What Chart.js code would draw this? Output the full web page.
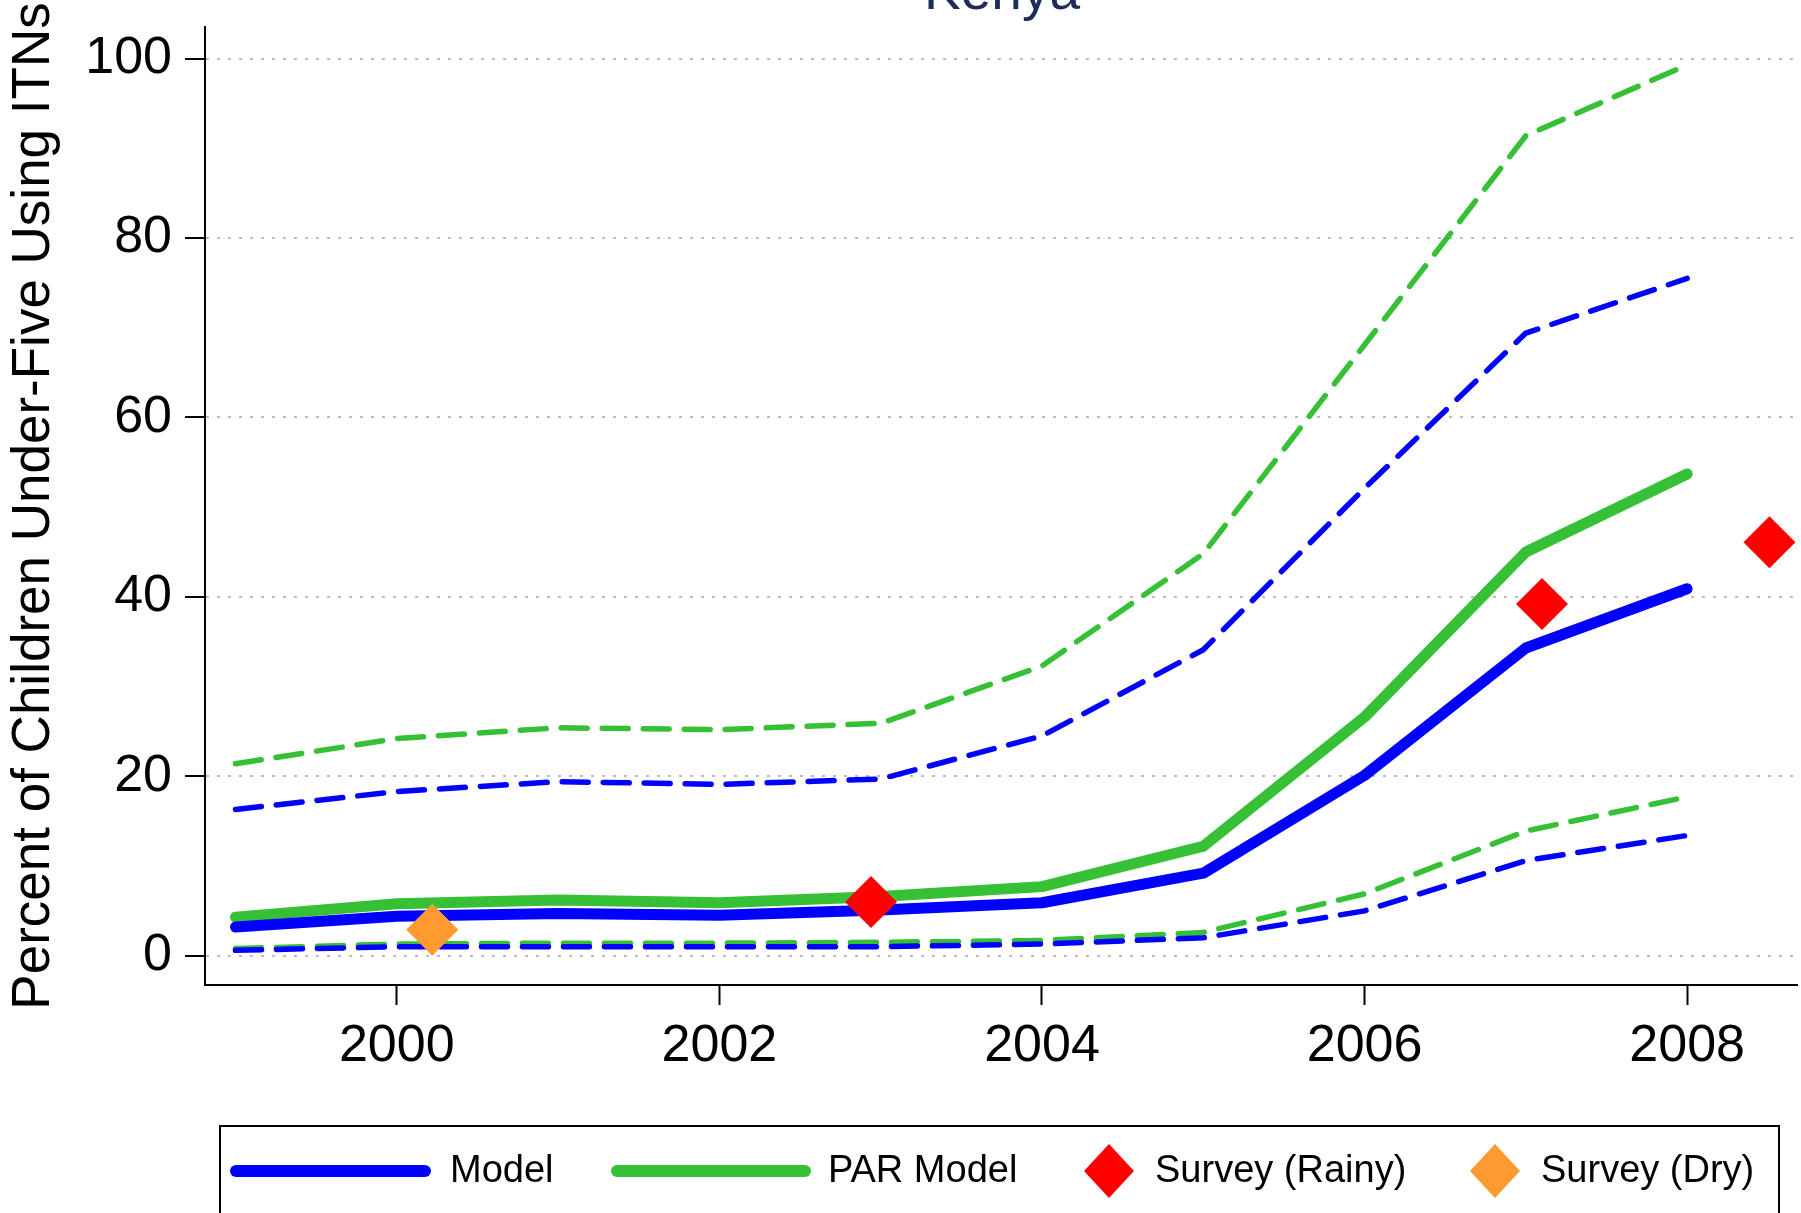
<!DOCTYPE html>
<html>
<head>
<meta charset="utf-8">
<title>Kenya ITN use</title>
<script src="https://cdn.jsdelivr.net/npm/chart.js@4.4.0/dist/chart.umd.min.js"></script>
<style>
  html, body { margin: 0; padding: 0; background: #fff; }
  #wrap { width: 1801px; height: 1213px; overflow: hidden; }
</style>
</head>
<body>
<div id="wrap"><canvas id="chart" width="1801" height="1213"></canvas></div>
<script>
// annees du modele
const years = [1999, 2000, 2001, 2002, 2003, 2004, 2005, 2006, 2007, 2008];

// Model (bleu) + bornes
const modelValues = [3.2, 4.4, 4.7, 4.5, 5.1, 5.9, 9.2, 20.1, 34.3, 40.9];
const modelLower  = [0.6, 1.0, 1.0, 1.0, 1.0, 1.3, 2.0, 5.0, 10.6, 13.4];
const modelUpper  = [16.3, 18.3, 19.4, 19.1, 19.7, 24.5, 34.1, 52.1, 69.4, 75.5];

// PAR Model (vert) + bornes
const parValues = [4.3, 5.8, 6.2, 5.9, 6.6, 7.7, 12.2, 26.6, 45.0, 53.7];
const parLower  = [0.8, 1.3, 1.4, 1.4, 1.5, 1.7, 2.6, 6.9, 13.9, 17.7];
const parUpper  = [21.4, 24.2, 25.4, 25.2, 25.9, 32.3, 44.8, 68.1, 91.4, 99.3];

// enquetes
const rainyYears  = [2002.94, 2007.10, 2008.51];
const rainyValues = [6.0, 39.2, 46.1];
const dryYears  = [2000.22];
const dryValues = [2.9];

const xTicks = [2000, 2002, 2004, 2006, 2008];
const yTicks = [0, 20, 40, 60, 80, 100];
const legendLabels = ['Model', 'PAR Model', 'Survey (Rainy)', 'Survey (Dry)'];

const BLUE = '#0000ff';
const GREEN = '#36c036';
const RED = '#ff0000';
const ORANGE = '#ff9a33';
const FONT = '"Liberation Sans", Arial, sans-serif';

Chart.defaults.font.family = FONT;
Chart.defaults.color = '#000';

const pts = (xs, ys) => xs.map((x, i) => ({ x: x, y: ys[i] }));

const solid = (label, color, values, order) => ({
  label: label, data: pts(years, values), order: order,
  borderColor: color, backgroundColor: color, borderWidth: 11,
  borderCapStyle: 'round', borderJoinStyle: 'round',
  pointRadius: 0, fill: false, tension: 0
});

const dashed = (label, color, values, order) => ({
  label: label, data: pts(years, values), order: order,
  borderColor: color, borderWidth: 5.5, borderDash: [26, 15],
  borderCapStyle: 'round', borderJoinStyle: 'round',
  pointRadius: 0, fill: false, tension: 0
});

const marks = (label, color, xs, ys, order) => ({
  label: label, data: pts(xs, ys), order: order, showLine: false,
  pointStyle: 'rectRot', pointRadius: 26, pointHoverRadius: 26,
  backgroundColor: color, borderColor: color, borderWidth: 0
});

// pas de marge auto autour des axes
const noPad = s => { s.paddingTop = 0; s.paddingBottom = 0; s.paddingLeft = 0; s.paddingRight = 0; };

// titre + legende encadree
const decorPlugin = {
  id: 'decor',
  afterDraw(chart) {
    const ctx = chart.ctx;
    ctx.save();
    ctx.fillStyle = '#1e2c5a';
    ctx.font = '55px ' + FONT;
    ctx.textAlign = 'center';
    ctx.textBaseline = 'alphabetic';
    ctx.fillText('Kenya', 1002, 9);

    ctx.strokeStyle = '#000';
    ctx.lineWidth = 2;
    ctx.strokeRect(220, 1126, 1559, 140);

    const cy = 1171;
    const items = [
      { label: legendLabels[0], kind: 'line', x0: 236, x1: 425, tx: 450 },
      { label: legendLabels[1], kind: 'line', x0: 617, x1: 805, tx: 828 },
      { label: legendLabels[2], kind: 'diamond', cx: 1109, tx: 1155 },
      { label: legendLabels[3], kind: 'diamond', cx: 1495, tx: 1541 }
    ];
    items.forEach(it => {
      const ds = chart.data.datasets.find(d => d.label === it.label);
      if (it.kind === 'line') {
        ctx.strokeStyle = ds.borderColor;
        ctx.lineWidth = 12;
        ctx.lineCap = 'round';
        ctx.beginPath();
        ctx.moveTo(it.x0, cy);
        ctx.lineTo(it.x1, cy);
        ctx.stroke();
      } else {
        ctx.fillStyle = ds.backgroundColor;
        ctx.beginPath();
        ctx.moveTo(it.cx - 25, cy);
        ctx.lineTo(it.cx, cy - 27);
        ctx.lineTo(it.cx + 25, cy);
        ctx.lineTo(it.cx, cy + 27);
        ctx.closePath();
        ctx.fill();
      }
      ctx.fillStyle = '#000';
      ctx.font = '38px ' + FONT;
      ctx.textAlign = 'left';
      ctx.textBaseline = 'middle';
      ctx.fillText(it.label, it.tx, cy + 1);
    });
    ctx.restore();
  }
};

new Chart(document.getElementById('chart'), {
  type: 'line',
  data: {
    datasets: [
      marks('Survey (Rainy)', RED, rainyYears, rainyValues, 0),
      marks('Survey (Dry)', ORANGE, dryYears, dryValues, 0),
      solid('Model', BLUE, modelValues, 1),
      solid('PAR Model', GREEN, parValues, 2),
      dashed('Model lower', BLUE, modelLower, 3),
      dashed('Model upper', BLUE, modelUpper, 3),
      dashed('PAR lower', GREEN, parLower, 4),
      dashed('PAR upper', GREEN, parUpper, 4)
    ]
  },
  options: {
    responsive: false,
    animation: false,
    devicePixelRatio: 1,
    layout: { autoPadding: false, padding: { top: 27, right: 4, left: 0, bottom: 0 } },
    plugins: {
      legend: { display: false },
      tooltip: { enabled: false },
      title: { display: false }
    },
    scales: {
      x: {
        type: 'linear',
        min: 1998.811,
        max: 2008.681,
        afterBuildTicks: s => { s.ticks = xTicks.map(v => ({ value: v })); },
        afterFit: s => { s.height = 228; noPad(s); },
        ticks: {
          font: { size: 52 }, color: '#000', padding: 10,
          maxRotation: 0, autoSkip: false,
          callback: v => String(v)
        },
        grid: { drawOnChartArea: false, tickLength: 20, tickWidth: 2, tickColor: '#000' },
        border: { color: '#000', width: 2 }
      },
      y: {
        type: 'linear',
        min: -3.265,
        max: 103.52,
        afterBuildTicks: s => { s.ticks = yTicks.map(v => ({ value: v })); },
        afterFit: s => { s.width = 205; noPad(s); },
        ticks: {
          font: { size: 52 }, color: '#000', padding: 13,
          callback: v => String(v)
        },
        grid: { color: '#bdbdbd', lineWidth: 2, tickLength: 20, tickWidth: 2, tickColor: '#000' },
        border: { color: '#000', width: 2, dash: [3, 8] },
        title: {
          display: true,
          text: 'Percent of Children Under-Five Using ITNs',
          font: { size: 53 }, color: '#000',
          padding: { top: 3, bottom: 0 }
        }
      }
    }
  },
  plugins: [decorPlugin]
});
</script>
</body>
</html>
